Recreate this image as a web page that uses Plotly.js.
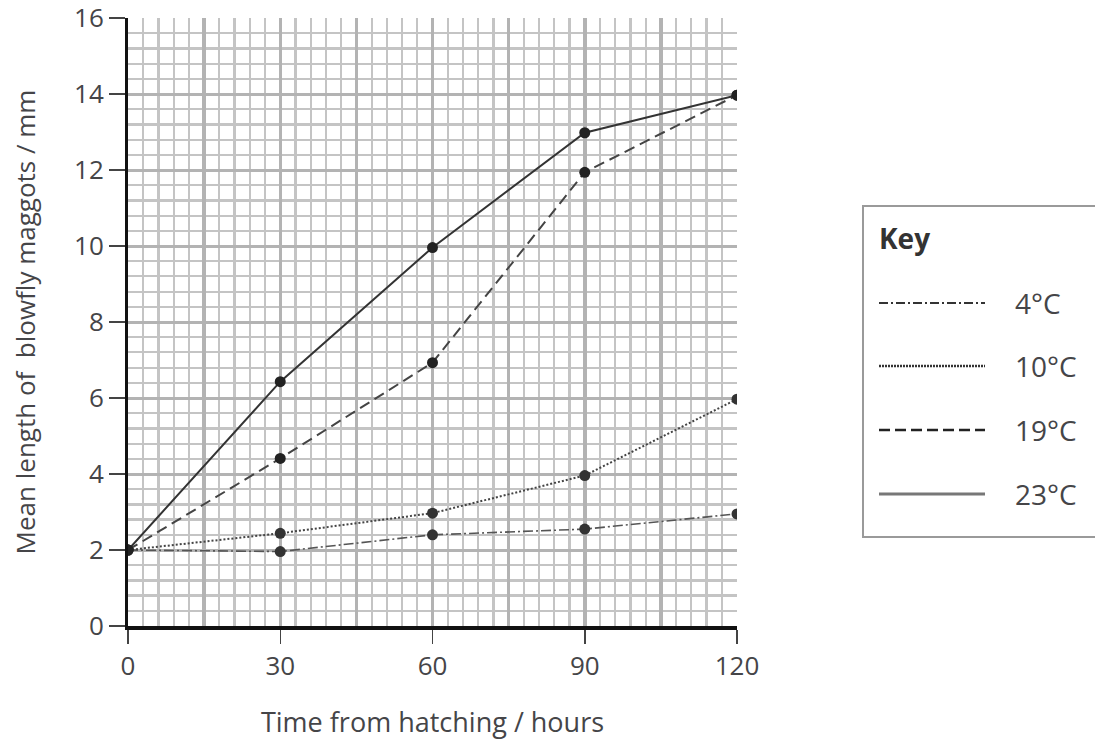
<!DOCTYPE html>
<html>
<head>
<meta charset="utf-8">
<script src="https://cdn.plot.ly/plotly-3.0.1.min.js"></script>
<style>html,body{margin:0;padding:0;background:#fff;}#chart{width:1095px;height:749px;}</style>
</head>
<body>
<div id="chart"></div>
<script>
// Data
const hours = [0, 30, 60, 90, 120];
const len4C  = [2, 1.96, 2.4, 2.55, 2.95];
const len10C = [2, 2.44, 2.97, 3.96, 5.97];
const len19C = [2, 4.41, 6.93, 11.94, 13.97];
const len23C = [2, 6.43, 9.96, 12.98, 13.97];
const seriesNames = ['4\u00B0C', '10\u00B0C', '19\u00B0C', '23\u00B0C'];
const xTickVals = [0, 30, 60, 90, 120];
const yTickVals = [0, 2, 4, 6, 8, 10, 12, 14, 16];
const xTitle = 'Time from hatching / hours';
const yTitle = 'Mean length of  blowfly maggots / mm';
const keyTitle = 'Key';

const FONT = 'Open Sans, Noto Sans, sans-serif';
const TXT = '#454548';
const GRID_THICK = '#b3b3b3';
const GRID_THIN = '#c4c4c4';

const styles = [
  {dash: '10px,3px,2px,3px', width: 1.6, color: '#555'},
  {dash: '2px,2px', width: 2, color: '#444'},
  {dash: '11px,6px', width: 2, color: '#444'},
  {dash: 'solid', width: 2, color: '#333'}
];
const ys = [len4C, len10C, len19C, len23C];

const traces = ys.map((y, i) => ({
  type: 'scatter', mode: 'lines+markers',
  x: hours, y: y, name: seriesNames[i],
  line: {dash: styles[i].dash, width: styles[i].width, color: styles[i].color},
  marker: {size: 11, color: i >= 2 ? '#222' : '#333'},
  showlegend: false, hoverinfo: 'x+y+name'
}));

// Manual key box (legend styling)
const px = v => (v - 128) / 609;
const py = v => (626 - v) / 608;
const shapes = [
  {type: 'rect', xref: 'paper', yref: 'paper', x0: px(863), x1: px(1110), y0: py(537), y1: py(206),
   line: {color: '#9a9a9a', width: 2}, fillcolor: 'rgba(0,0,0,0)'}
];
const annotations = [
  {xref: 'paper', yref: 'paper', x: px(877), y: py(238), xanchor: 'left', yanchor: 'middle',
   text: '<b>' + keyTitle + '</b>', showarrow: false, font: {family: FONT, size: 28, color: '#333'}}
];
const keyRows = [303, 366, 430, 494];
const keyStyles = [
  {dash: '9px,3px,2px,3px', width: 2.2, color: '#333'},
  {dash: '2px,1px', width: 2.5, color: '#333'},
  {dash: '11px,5px', width: 2.5, color: '#222'},
  {dash: 'solid', width: 3, color: '#777'}
];
seriesNames.forEach((n, i) => {
  shapes.push({type: 'line', xref: 'paper', yref: 'paper', x0: px(879), x1: px(985),
    y0: py(keyRows[i]), y1: py(keyRows[i]),
    line: {dash: keyStyles[i].dash, width: keyStyles[i].width, color: keyStyles[i].color}});
  annotations.push({xref: 'paper', yref: 'paper', x: px(1013), y: py(keyRows[i]),
    xanchor: 'left', yanchor: 'middle', text: n, showarrow: false,
    font: {family: FONT, size: 28, color: TXT}});
});

const layout = {
  width: 1095, height: 749,
  margin: {l: 128, r: 358, t: 18, b: 123, pad: 0},
  paper_bgcolor: '#fff', plot_bgcolor: '#fff',
  font: {family: FONT, color: TXT},
  xaxis: {
    range: [0, 120], tickmode: 'array', tickvals: xTickVals,
    ticks: 'outside', ticklen: 14, tickwidth: 1.5, tickcolor: '#444',
    ticklabelstandoff: 0, ticklabeloverflow: 'allow',
    tickfont: {family: FONT, size: 26, color: TXT},
    showline: true, linecolor: '#111', linewidth: 4,
    showgrid: true, gridcolor: GRID_THICK, gridwidth: 3.5, zeroline: false,
    minor: {dtick: 3, tick0: 0, showgrid: true, gridcolor: GRID_THIN, gridwidth: 2.2, ticks: ''},
    title: {text: xTitle, font: {family: FONT, size: 27, color: TXT}, standoff: 32},
    fixedrange: true
  },
  xaxis2: {
    overlaying: 'x', range: [0, 120], tickmode: 'array', tickvals: [15, 45, 75, 105],
    showticklabels: false, ticks: '', showline: false, zeroline: false,
    showgrid: true, gridcolor: GRID_THICK, gridwidth: 3.5, fixedrange: true
  },
  yaxis: {
    range: [0, 16], tickmode: 'array', tickvals: yTickVals,
    ticks: 'outside', ticklen: 16, tickwidth: 1.5, tickcolor: '#444',
    ticklabeloverflow: 'allow',
    tickfont: {family: FONT, size: 26, color: TXT},
    showline: true, linecolor: '#111', linewidth: 3,
    showgrid: true, gridcolor: GRID_THICK, gridwidth: 3, zeroline: false,
    minor: {dtick: 0.4, tick0: 0, showgrid: true, gridcolor: GRID_THIN, gridwidth: 2.2, ticks: ''},
    title: {text: yTitle, font: {family: FONT, size: 26, color: TXT}, standoff: 31},
    fixedrange: true
  },
  shapes: shapes,
  annotations: annotations,
  showlegend: false
};

// invisible helper so xaxis2 is rendered
traces.push({type: 'scatter', mode: 'markers', x: [null], y: [null], xaxis: 'x2', showlegend: false, hoverinfo: 'skip'});

Plotly.newPlot('chart', traces, layout, {displayModeBar: false, staticPlot: true});
</script>
</body>
</html>
